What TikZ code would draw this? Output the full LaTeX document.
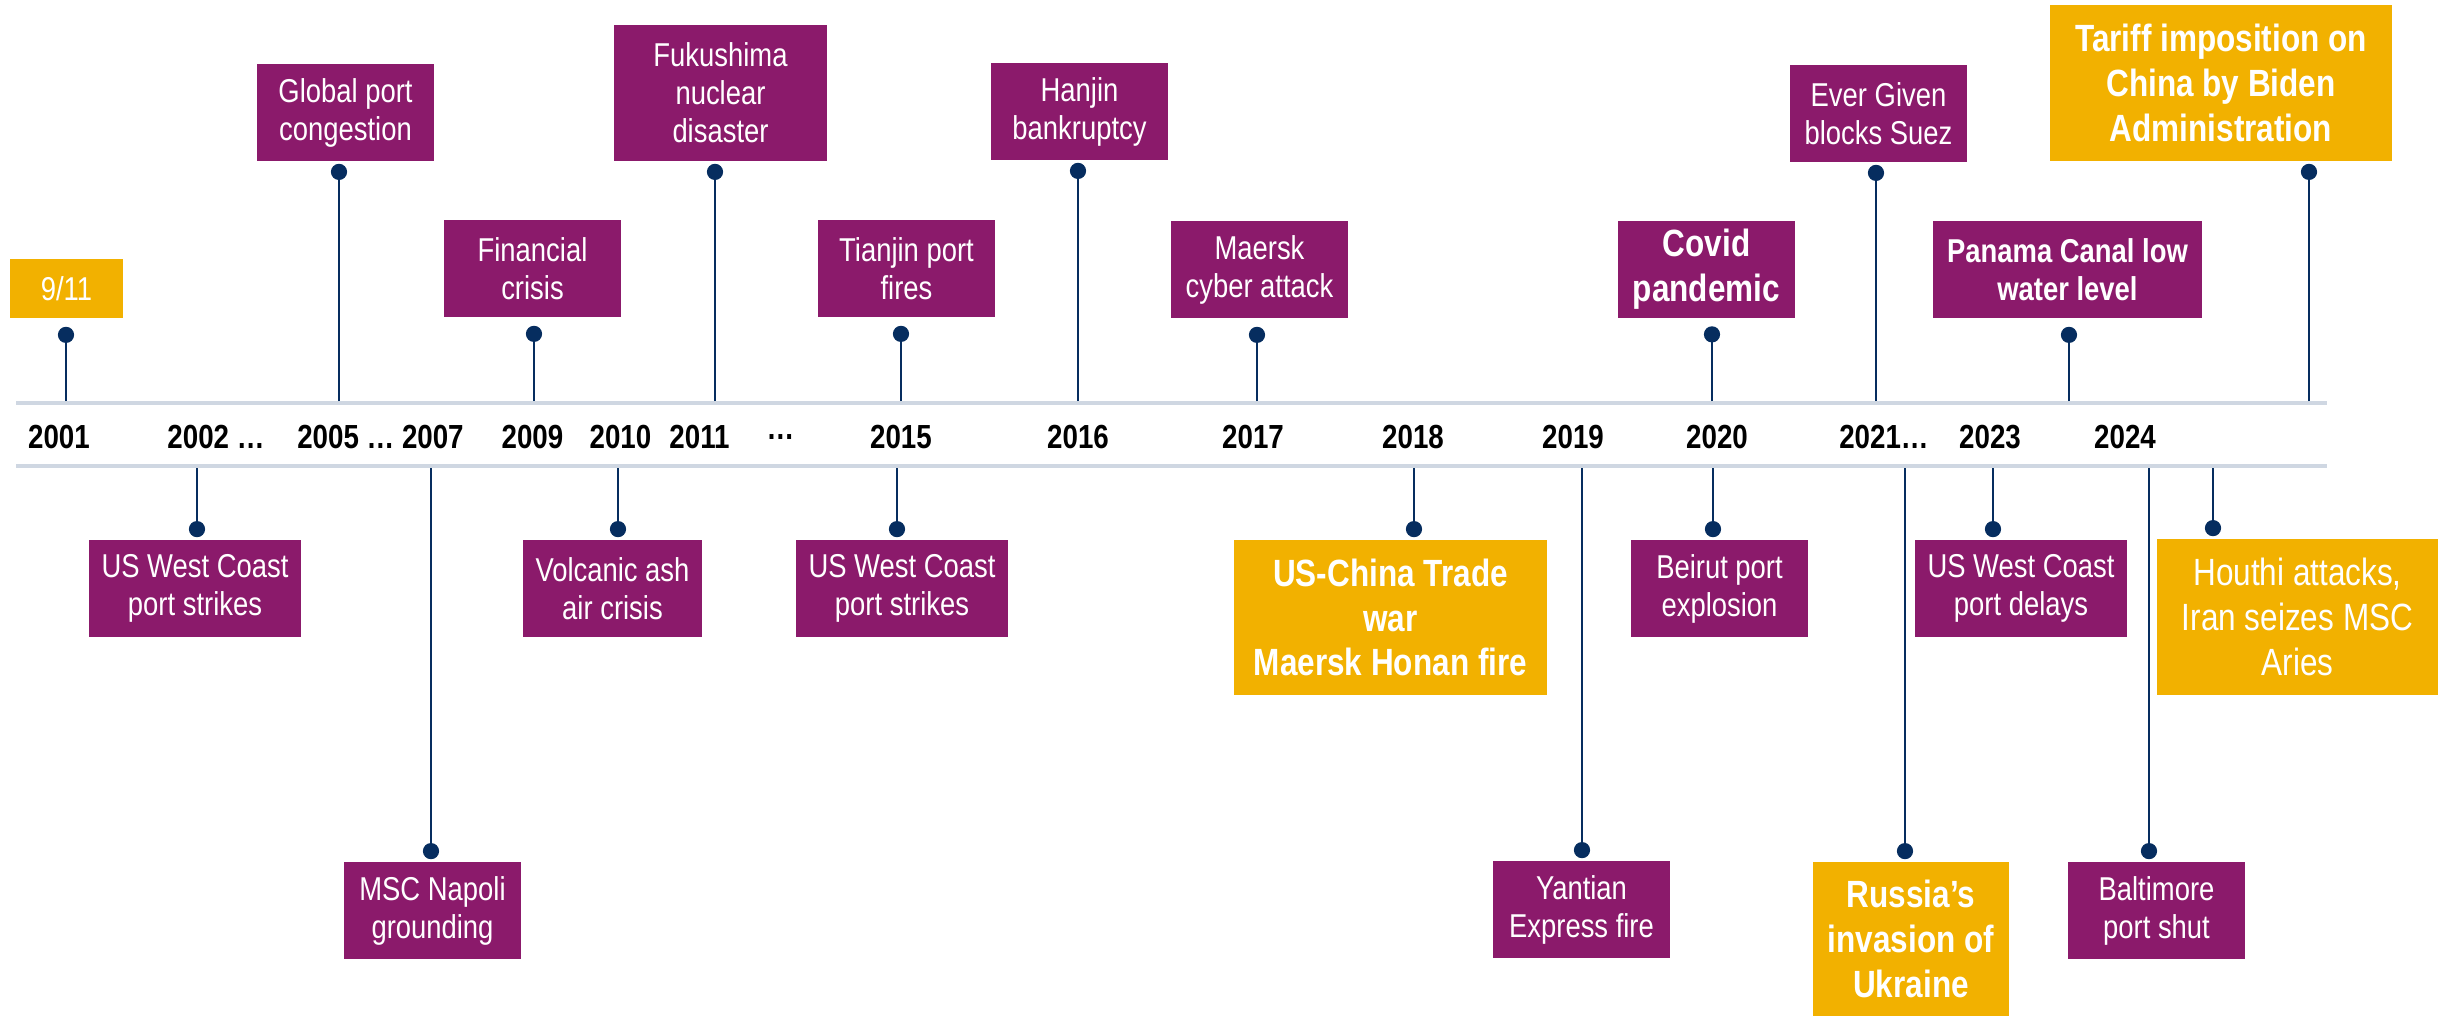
\documentclass[tikz,border=0pt]{standalone}
\usepackage{fontspec}
\setmainfont{Liberation Sans}[FakeStretch=0.83]
\usepackage{tikz}
\usetikzlibrary{positioning, arrows.meta}
\definecolor{evpurple}{HTML}{8B1A6B}
\definecolor{evyellow}{HTML}{F2B100}
\definecolor{stemblue}{HTML}{062D5F}
\definecolor{axisgrey}{HTML}{CFD7E2}
\newcommand{\evfont}{\fontsize{9.4}{10.8}\selectfont}
\newcommand{\bigevfont}{\fontsize{10.8}{12.7}\selectfont}
\newcommand{\yearfont}{\fontsize{9.5}{10.5}\selectfont\bfseries}

\begin{document}
\begin{tikzpicture}[font=\evfont]
    \tikzset{
        event/.style={rectangle, fill=evpurple, text=white, align=center,
                      minimum width=1.77cm, minimum height=0.97cm, inner sep=0pt},
        keyevent/.style={event, fill=evyellow, font=\bigevfont\bfseries},
        year/.style={font=\yearfont, text=black},
        stem/.style={draw=stemblue, line width=0.7pt, -{Circle[length=4.6pt]},
                     shorten >=0.6pt},
        shortstem/.style={shorten >=2.3pt},
        axis/.style={draw=axisgrey, line width=1.2pt}
    }
    \useasboundingbox (0,0) rectangle (24.38,-10.16);

    \coordinate (axl) at (0.16,-4.03);
    \coordinate (axr) at (23.27,-4.03);
    \coordinate (bxl) at (0.16,-4.66);
    \coordinate (bxr) at (23.27,-4.66);
    \draw[axis] (axl) -- (axr);
    \draw[axis] (bxl) -- (bxr);

    \node[year] (y2001) at (0.59,-4.37)  {2001};
    \node[year] (y2002) at (2.16,-4.37)  {2002 …};
    \node[year] (y2005) at (3.805,-4.37) {2005 … 2007};
    \node[year] (y2009) at (5.325,-4.37) {2009};
    \node[year] (y2010) at (6.205,-4.37) {2010};
    \node[year] (y2011) at (6.995,-4.37) {2011};
    \node[year] (ygap)  at (7.805,-4.37) {…};
    \node[year] (y2015) at (9.01,-4.37)  {2015};
    \node[year] (y2016) at (10.78,-4.37) {2016};
    \node[year] (y2017) at (12.53,-4.37) {2017};
    \node[year] (y2018) at (14.13,-4.37) {2018};
    \node[year] (y2019) at (15.73,-4.37) {2019};
    \node[year] (y2020) at (17.17,-4.37) {2020};
    \node[year] (y2021) at (18.84,-4.37) {2021…};
    \node[year] (y2023) at (19.90,-4.37) {2023};
    \node[year] (y2024) at (21.25,-4.37) {2024};

    \node[event, fill=evyellow, minimum width=1.13cm, minimum height=0.59cm]
        (nine) at (0.665,-2.885) {9/11};
    \node[event] (gpc) at (3.455,-1.125) {Global port\\congestion};
    \node[event] (fin) at (5.325,-2.685) {Financial\\crisis};
    \node[event, minimum width=2.13cm, minimum height=1.36cm]
        (fuku) at (7.205,-0.93) {Fukushima\\nuclear\\disaster};
    \node[event] (tian) at (9.065,-2.685) {Tianjin port\\fires};
    \node[event] (hanjin) at (10.795,-1.115) {Hanjin\\bankruptcy};
    \node[event] (cyber) at (12.595,-2.695) {Maersk\\cyber attack};
    \node[event, font=\bigevfont\bfseries] (covid) at (17.065,-2.69) {Covid\\pandemic};
    \node[event] (given) at (18.785,-1.135) {Ever Given\\blocks Suez};
    \node[event, font=\evfont\bfseries, minimum width=2.69cm]
        (panama) at (20.675,-2.695) {Panama Canal low\\water level};
    \node[keyevent, minimum width=3.42cm, minimum height=1.56cm]
        (tariff) at (22.21,-0.83) {Tariff imposition on\\China by Biden\\Administration};

    \node[event, minimum width=2.12cm] (wcs02) at (1.95,-5.885) {US West Coast\\port strikes};
    \node[event] (napoli) at (4.325,-9.105) {MSC Napoli\\grounding};
    \node[event, minimum width=1.79cm] (ash) at (6.125,-5.885) {Volcanic ash\\air crisis};
    \node[event, minimum width=2.12cm] (wcs15) at (9.02,-5.885) {US West Coast\\port strikes};
    \node[keyevent, minimum width=3.13cm, minimum height=1.55cm]
        (trade) at (13.905,-6.175) {US-China Trade\\war\\Maersk Honan fire};
    \node[event] (yantian) at (15.815,-9.095) {Yantian\\Express fire};
    \node[event] (beirut) at (17.195,-5.885) {Beirut port\\explosion};
    \node[keyevent, minimum width=1.96cm, minimum height=1.54cm]
        (russia) at (19.11,-9.39) {Russia’s\\invasion of\\Ukraine};
    \node[event, minimum width=2.12cm] (wcd23) at (20.21,-5.885) {US West Coast\\port delays};
    \node[event] (baltimore) at (21.565,-9.105) {Baltimore\\port shut};
    \node[event, fill=evyellow, font=\bigevfont, minimum width=2.81cm, minimum height=1.56cm]
        (houthi) at (22.975,-6.17) {Houthi attacks,\\Iran seizes MSC\\Aries};

    \coordinate (u2001) at (0.66,-4.01);
    \coordinate (u2005) at (3.39,-4.01);
    \coordinate (u2009) at (5.34,-4.01);
    \coordinate (u2011) at (7.15,-4.01);
    \coordinate (u2015) at (9.01,-4.01);
    \coordinate (u2016) at (10.78,-4.01);
    \coordinate (u2017) at (12.57,-4.01);
    \coordinate (u2020) at (17.12,-4.01);
    \coordinate (u2021) at (18.76,-4.01);
    \coordinate (u2023) at (20.69,-4.01);
    \coordinate (u2024) at (23.09,-4.01);
    \draw[stem, shortstem] (u2001) -- (u2001 |- nine.south);
    \draw[stem] (u2005) -- (u2005 |- gpc.south);
    \draw[stem, shortstem] (u2009) -- (u2009 |- fin.south);
    \draw[stem] (u2011) -- (u2011 |- fuku.south);
    \draw[stem, shortstem] (u2015) -- (u2015 |- tian.south);
    \draw[stem] (u2016) -- (u2016 |- hanjin.south);
    \draw[stem, shortstem] (u2017) -- (u2017 |- cyber.south);
    \draw[stem, shortstem] (u2020) -- (u2020 |- covid.south);
    \draw[stem] (u2021) -- (u2021 |- given.south);
    \draw[stem, shortstem] (u2023) -- (u2023 |- panama.south);
    \draw[stem] (u2024) -- (u2024 |- tariff.south);

    \coordinate (d2002) at (1.97,-4.68);
    \coordinate (d2007) at (4.31,-4.68);
    \coordinate (d2010) at (6.18,-4.68);
    \coordinate (d2015) at (8.97,-4.68);
    \coordinate (d2018) at (14.14,-4.68);
    \coordinate (d2019) at (15.82,-4.68);
    \coordinate (d2020) at (17.13,-4.68);
    \coordinate (d2022) at (19.05,-4.68);
    \coordinate (d2023) at (19.93,-4.68);
    \coordinate (d2024) at (21.49,-4.68);
    \coordinate (d2024b) at (22.13,-4.68);
    \draw[stem] (d2002) -- (d2002 |- wcs02.north);
    \draw[stem] (d2007) -- (d2007 |- napoli.north);
    \draw[stem] (d2010) -- (d2010 |- ash.north);
    \draw[stem] (d2015) -- (d2015 |- wcs15.north);
    \draw[stem] (d2018) -- (d2018 |- trade.north);
    \draw[stem] (d2019) -- (d2019 |- yantian.north);
    \draw[stem] (d2020) -- (d2020 |- beirut.north);
    \draw[stem] (d2022) -- (d2022 |- russia.north);
    \draw[stem] (d2023) -- (d2023 |- wcd23.north);
    \draw[stem] (d2024) -- (d2024 |- baltimore.north);
    \draw[stem] (d2024b) -- (d2024b |- houthi.north);
\end{tikzpicture}
\end{document}
